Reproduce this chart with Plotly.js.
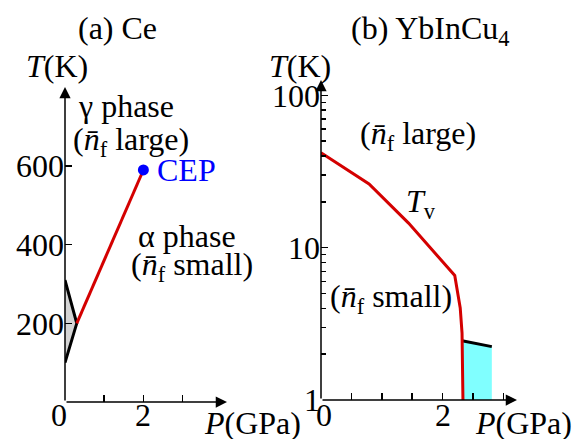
<!DOCTYPE html>
<html><head><meta charset="utf-8">
<script src="https://cdn.plot.ly/plotly-3.0.1.min.js"></script>
<style>html,body{margin:0;padding:0;background:#fff}</style>
</head><body><div id="chart" style="width:579px;height:439px"></div>
<script>
// ---- Panel (a) Ce ----
const ceTriangleP = [0, 0.3, 0];
const ceTriangleT = [310, 200, 100];
const ceLineP = [0.3, 2.0];
const ceLineT = [200, 590];
const cepP = [2.0];
const cepT = [590];
const ceXTicks = [0, 1, 2, 3];
const ceXTickText = ['0', '', '2', ''];
const ceYTicks = [200, 400, 600];
const ceYTickText = ['200', '400', '600'];

// ---- Panel (b) YbInCu4 ----
const ybTvP = [0, 0.79, 1.44, 2.20, 2.29, 2.32, 2.335];
const ybTvT = [42.0, 26.2, 14.5, 6.57, 4.02, 2.75, 1.0];
const ybUpperP = [2.32, 2.81];
const ybUpperT = [2.45, 2.24];
const ybXTicks = [0, 0.5, 1, 1.5, 2, 2.5, 3];
const ybXTickText = ['0', '', '', '', '2', '', ''];
const ybYTicks = [1, 10, 100];
const ybYTickText = ['1', '10', '100'];
const ybYMinor = [2,3,4,5,6,7,8,9,20,30,40,50,60,70,80,90];

const FONT = 'Liberation Serif';
const FS = 32;
const W = 579, H = 439;
const px = v => v / W;
const py = v => 1 - v / H;

const traces = [
  { x: ceTriangleP, y: ceTriangleT, type: 'scatter', mode: 'lines', fill: 'toself',
    fillcolor: '#d4d4d4', line: { width: 0 }, xaxis: 'x', yaxis: 'y', hoverinfo: 'skip' },
  { x: ceTriangleP, y: ceTriangleT, type: 'scatter', mode: 'lines',
    line: { color: '#000', width: 3 }, xaxis: 'x', yaxis: 'y' },
  { x: ceLineP, y: ceLineT, type: 'scatter', mode: 'lines',
    line: { color: '#d40000', width: 3 }, xaxis: 'x', yaxis: 'y' },
  { x: cepP, y: cepT, type: 'scatter', mode: 'markers',
    marker: { color: '#0000ff', size: 11 }, xaxis: 'x', yaxis: 'y' },
  { x: [ybUpperP[0], ybUpperP[0], ybUpperP[1], ybUpperP[1]],
    y: [1, ybUpperT[0], ybUpperT[1], 1], type: 'scatter', mode: 'lines', fill: 'toself',
    fillcolor: '#80ffff', line: { width: 0 }, xaxis: 'x2', yaxis: 'y2', hoverinfo: 'skip' },
  { x: ybUpperP, y: ybUpperT, type: 'scatter', mode: 'lines',
    line: { color: '#000', width: 3 }, xaxis: 'x2', yaxis: 'y2' },
  { x: ybTvP, y: ybTvT, type: 'scatter', mode: 'lines',
    line: { color: '#d40000', width: 3 }, xaxis: 'x2', yaxis: 'y2' }
];

const axCommon = {
  showgrid: false, zeroline: false, showline: false,
  ticks: 'inside', ticklen: 7, tickwidth: 1.5, tickcolor: '#000',
  tickfont: { family: FONT, size: FS, color: '#000' }, fixedrange: true
};

function arrow(xref, yref, x, y, ax, ay) {
  return { xref, yref, axref: xref, ayref: yref, x, y, ax, ay, text: '',
    showarrow: true, arrowhead: 2, arrowsize: 1.5, arrowwidth: 1.5, arrowcolor: '#000',
    standoff: 0, startstandoff: 0 };
}
function label(text, x, y, color) {
  return { xref: 'paper', yref: 'paper', x: px(x), y: py(y), text, showarrow: false,
    xanchor: 'center', yanchor: 'middle',
    font: { family: FONT, size: FS, color: color || '#000' } };
}
// x tick labels drawn on the axis scale, a little closer to the axis than Plotly's default
function xTickLabels(xref, vals, texts, yPix, shift0) {
  const out = [];
  vals.forEach((v, i) => {
    if (!texts[i]) return;
    out.push({ xref, yref: 'paper', x: v, y: py(yPix), text: texts[i], showarrow: false,
      xanchor: 'center', yanchor: 'middle', xshift: (v === 0 ? shift0 : 0),
      font: { family: FONT, size: FS, color: '#000' } });
  });
  return out;
}
const nbar = '(<i>n̄</i><sub>f</sub>';

const layout = {
  width: W, height: H, autosize: false,
  margin: { l: 0, r: 0, t: 0, b: 0 },
  paper_bgcolor: '#fff', plot_bgcolor: 'rgba(0,0,0,0)',
  showlegend: false,
  xaxis: Object.assign({}, axCommon, { domain: [px(65), px(227)], range: [0, 4.133],
    anchor: 'y', tickvals: ceXTicks, ticktext: ceXTickText, showticklabels: false }),
  yaxis: Object.assign({}, axCommon, { domain: [py(402), py(87)], range: [0, 801],
    anchor: 'x', tickvals: ceYTicks, ticktext: ceYTickText }),
  xaxis2: Object.assign({}, axCommon, { domain: [px(321), px(517)], range: [0, 3.224],
    anchor: 'y2', tickvals: ybXTicks, ticktext: ybXTickText, showticklabels: false }),
  yaxis2: Object.assign({}, axCommon, { domain: [py(400), py(80)], range: [0, 2.101],
    type: 'log', anchor: 'x2', tickvals: ybYTicks, ticktext: ybYTickText,
    minor: { tickvals: ybYMinor, ticks: 'inside', ticklen: 5, tickwidth: 1.5, tickcolor: '#000' } }),
  annotations: [
    arrow('x', 'y', 0, 801, 0, 0),
    arrow('x', 'y', 4.133, 0, 0, 0),
    arrow('x2', 'y2', 0, 2.101, 0, 0),
    arrow('x2', 'y2', 3.224, 0, 0, 0),
    ...xTickLabels('x', ceXTicks, ceXTickText, 415, -6),
    ...xTickLabels('x2', ybXTicks, ybXTickText, 415, 3),
    label('(a) Ce', 117, 28),
    label('(b) YbInCu<sub>4</sub>', 430, 30),
    label('<i>T</i>(K)', 57, 66),
    label('<i>T</i>(K)', 300, 66),
    label('<i>P</i>(GPa)', 252, 423),
    label('<i>P</i>(GPa)', 523, 423),
    label('γ phase', 126, 106),
    label(nbar + ' large)', 131, 141),
    label('CEP', 186, 170, '#0000ff'),
    label('α phase', 187, 236),
    label(nbar + ' small)', 192, 266),
    label(nbar + ' large)', 418, 135),
    label('<i>T</i><sub>v</sub>', 421, 203),
    label(nbar + ' small)', 391, 298)
  ]
};

Plotly.newPlot('chart', traces, layout, { staticPlot: true, displayModeBar: false });
</script></body></html>
